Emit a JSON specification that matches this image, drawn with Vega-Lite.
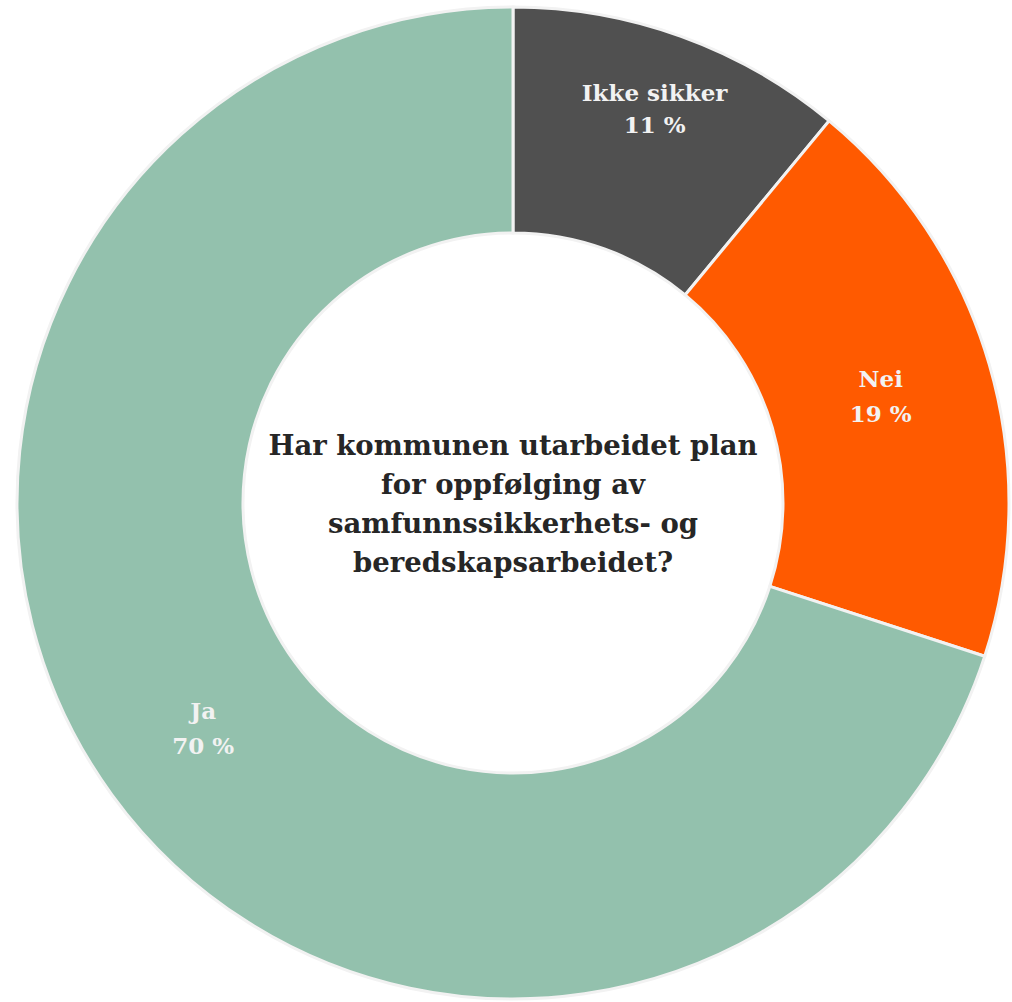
{
  "$schema": "https://vega.github.io/schema/vega-lite/v6.json",
  "autosize": {"type": "fit", "contains": "padding"},
  "width": 1012,
  "height": 1002,
  "padding": {"left": 14, "top": 4, "right": 0, "bottom": 0},
  "background": "white",
  "view": {"stroke": null},
  "data": {
    "values": [
      {"svar": "Ikke sikker", "andel": 11, "pct": "11 %", "rekkefolge": 1},
      {"svar": "Nei", "andel": 19, "pct": "19 %", "rekkefolge": 2},
      {"svar": "Ja", "andel": 70, "pct": "70 %", "rekkefolge": 3}
    ]
  },
  "encoding": {
    "theta": {"field": "andel", "type": "quantitative", "stack": true},
    "order": {"field": "rekkefolge", "type": "quantitative"},
    "color": {
      "field": "svar",
      "type": "nominal",
      "scale": {"domain": ["Ikke sikker", "Nei", "Ja"], "range": ["#505050", "#FF5A00", "#93C1AD"]},
      "legend": null
    }
  },
  "layer": [
    {
      "mark": {"type": "arc", "outerRadius": 496, "innerRadius": 270, "stroke": "#f2f2f2", "strokeWidth": 3}
    },
    {
      "mark": {"type": "text", "radius": 418, "dy": -16, "font": "DejaVu Serif", "fontWeight": "bold", "fontSize": 23},
      "encoding": {"text": {"condition": {"test": "datum.svar === 'Ikke sikker'", "field": "svar"}, "value": ""}, "color": {"value": "#f2f2f2"}}
    },
    {
      "mark": {"type": "text", "radius": 418, "dy": 16, "font": "DejaVu Serif", "fontWeight": "bold", "fontSize": 23},
      "encoding": {"text": {"condition": {"test": "datum.svar === 'Ikke sikker'", "field": "pct"}, "value": ""}, "color": {"value": "#f2f2f2"}}
    },
    {
      "mark": {"type": "text", "radius": 383, "dy": -16, "font": "DejaVu Serif", "fontWeight": "bold", "fontSize": 23},
      "encoding": {"text": {"condition": {"test": "datum.svar !== 'Ikke sikker'", "field": "svar"}, "value": ""}, "color": {"value": "#f2f2f2"}}
    },
    {
      "mark": {"type": "text", "radius": 383, "dy": 19, "font": "DejaVu Serif", "fontWeight": "bold", "fontSize": 23},
      "encoding": {"text": {"condition": {"test": "datum.svar !== 'Ikke sikker'", "field": "pct"}, "value": ""}, "color": {"value": "#f2f2f2"}}
    },
    {
      "data": {"values": [{"tittel": ["Har kommunen utarbeidet plan", "for oppfølging av", "samfunnssikkerhets- og", "beredskapsarbeidet?"]}]},
      "mark": {"type": "text", "font": "DejaVu Serif", "fontWeight": "bold", "fontSize": 27.5, "lineHeight": 39, "color": "#262626", "align": "center", "baseline": "middle", "dy": -56},
      "encoding": {"text": {"field": "tittel"}, "theta": null, "order": null, "color": null}
    }
  ]
}
